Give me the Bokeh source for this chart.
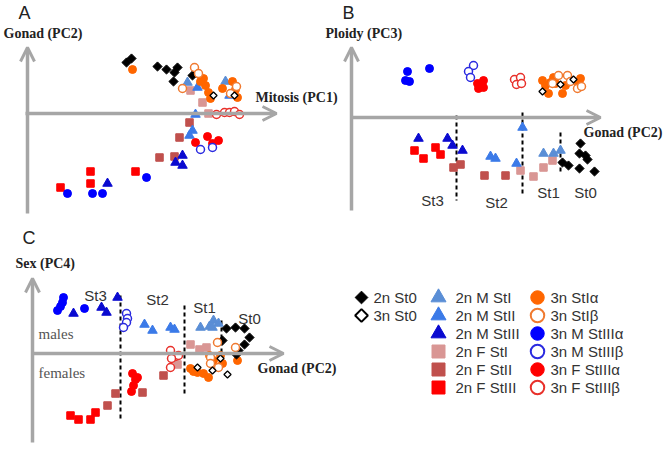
import math
from bokeh.plotting import figure
from bokeh.models import Range1d, Arrow, OpenHead, Label
from bokeh.embed import file_html
from bokeh.resources import INLINE
from bokeh.core.properties import value

# ---------------- Panel A : Mitosis (PC1) x Gonad (PC2) ----------------
A_2N_ST0 = [(9.9, 5.1), (10.4, 5.5), (13.0, 4.7), (13.9, 4.4), (15.0, 4.6), (14.7, 4.1), (14.6, 3.2), (16.5, 3.8)]
A_3N_ST0 = [(18.6, 1.8), (20.7, 1.8)]
A_2N_M_STI = [(16.0, 3.1), (19.8, 3.2)]
A_2N_M_STII = [(17.0, 2.6), (20.2, 1.8), (16.8, -0.1), (16.5, -1.7), (16.2, -2.2)]
A_2N_M_STIII = [(8.0, -7.0), (15.5, -4.2), (14.8, -4.9), (15.5, -5.2)]
A_2N_F_STI = [(16.3, 2.3), (17.5, 1.1), (18.1, 0.0)]
A_2N_F_STII = [(16.2, -0.9), (15.2, -2.4), (13.2, -4.4), (14.7, -4.3)]
A_2N_F_STIII = [(3.3, -7.4), (6.3, -5.8), (6.3, -7.0), (10.8, -5.8)]
A_3N_STIA = [(10.5, 4.4), (17.0, 4.0), (17.6, 3.5), (17.8, 2.8), (18.1, 2.1), (18.3, 1.5), (17.3, 3.2),
             (19.5, 2.5), (20.5, 3.2), (20.8, 2.4), (21.0, 1.6)]
A_3N_STIB = [(16.7, 4.6), (17.1, 4.0), (15.5, 2.5), (20.9, 2.7), (20.3, 2.0)]
A_3N_M_STIIIA = [(4.0, -8.0), (6.5, -8.0), (7.5, -8.0), (11.9, -6.4)]
A_3N_M_STIIIB = [(17.3, -3.6), (18.5, -3.4)]
A_3N_F_STIIIA = [(16.8, -2.9), (18.0, -2.3), (18.5, -3.0), (19.1, -2.7)]
A_3N_F_STIIIB = [(18.9, -0.1), (19.7, 0.1), (20.2, 0.1), (20.7, 0.2), (21.2, -0.1)]

# ---------------- Panel B : Gonad (PC2) x Ploidy (PC3) ----------------
B_2N_ST0 = [(21.1, -4.5), (21.7, -4.8), (22.9, -2.6), (22.8, -3.6), (23.4, -3.8), (23.6, -4.2), (22.8, -5.1), (24.3, -5.4)]
B_3N_ST0 = [(19.1, 2.6), (22.2, 3.8), (20.9, 3.3)]
B_2N_M_STI = [(19.2, -3.6), (20.2, -3.6), (20.9, -3.3)]
B_2N_M_STII = [(13.9, -3.9), (14.4, -4.1), (16.5, -4.6), (17.1, -1.0)]
B_2N_M_STIII = [(6.7, -2.1), (9.6, -2.1), (10.1, -2.8), (11.1, -3.3)]
B_2N_F_STI = [(16.9, -5.3), (18.2, -5.9), (19.2, -5.0), (20.1, -4.3)]
B_2N_F_STII = [(10.2, -5.0), (10.9, -4.7), (13.3, -5.8), (15.4, -5.8)]
B_2N_F_STIII = [(6.3, -3.3), (7.2, -4.1), (8.4, -3.0), (8.9, -3.7)]
B_3N_STIA = [(19.1, 3.7), (19.4, 3.2), (19.7, 2.4), (20.2, 4.0), (20.4, 3.4), (21.1, 2.4), (21.4, 3.2),
             (22.9, 3.9), (22.7, 3.3), (19.9, 3.5)]
B_3N_STIB = [(20.7, 4.2), (21.6, 4.2), (21.9, 3.6), (22.6, 2.9), (20.1, 3.4), (23.0, 3.1)]
B_3N_M_STIIIA = [(5.6, 4.6), (5.4, 3.7), (5.8, 3.6), (7.8, 4.9)]
B_3N_M_STIIIB = [(12.2, 5.2), (11.7, 4.6), (11.9, 4.0)]
B_3N_F_STIIIA = [(12.6, 3.4), (13.2, 3.7), (12.7, 2.9), (13.2, 3.0)]
B_3N_F_STIIIB = [(16.3, 3.8), (16.9, 4.0), (16.5, 3.3), (17.0, 3.4)]
B_STAGE_X = [10.5, 17.1, 20.9]
B_STAGE_TOP = [0.2, 0.5, -1.5]
B_STAGE_BOTTOM = [-8.3, -7.8, -5.6]

# ---------------- Panel C : Gonad (PC2) x Sex (PC4) ----------------
C_2N_ST0 = [(19.4, 2.5), (20.3, 2.6), (21.2, 2.5), (21.7, 1.6), (21.2, 0.9), (20.6, 0.3), (19.0, 1.3), (20.4, -0.1)]
C_3N_ST0 = [(18.8, -0.5), (18.0, -1.7), (19.5, -2.1), (16.5, -1.4)]
C_2N_M_STI = [(16.8, 2.6), (17.7, 2.7), (18.1, 3.3), (18.6, 3.0), (18.0, 2.6)]
C_2N_M_STII = [(11.2, 2.9), (12.0, 2.3), (13.8, 2.6), (14.2, 2.4)]
C_2N_M_STIII = [(4.1, 4.0), (6.9, 4.6), (7.4, 4.1), (8.5, 5.6)]
C_2N_F_STI = [(15.8, 0.9), (16.7, 0.4), (17.4, 0.6), (14.5, -1.1)]
C_2N_F_STII = [(13.1, -2.2), (11.0, -3.9), (8.3, -4.0), (7.5, -5.2)]
C_2N_F_STIII = [(3.8, -6.2), (4.6, -6.6), (5.8, -6.6), (6.3, -5.9)]
C_3N_STIA = [(15.8, -1.5), (16.5, -1.9), (17.1, -2.0), (17.6, -2.4), (17.7, -0.2), (18.8, -0.2),
             (19.0, -1.0), (20.5, -0.7), (16.1, -1.8), (18.1, -0.7)]
C_3N_STIB = [(18.5, 1.1), (20.3, 0.6), (17.8, -0.4), (17.8, -1.0), (18.6, -1.4)]
C_3N_M_STIIIA = [(3.1, 5.6), (3.0, 5.1), (2.8, 4.7), (2.5, 4.3), (5.2, 4.5)]
C_3N_M_STIIIB = [(9.4, 4.0), (9.5, 3.5), (9.4, 3.1), (9.1, 2.6)]
C_3N_F_STIIIA = [(10.0, -2.0), (10.3, -2.6), (10.1, -3.2), (9.9, -3.8), (10.5, -2.4)]
C_3N_F_STIIIB = [(13.8, 0.3), (14.3, -0.3), (14.6, -0.2), (13.9, -0.5), (13.8, -1.4)]
C_STAGE_X = [8.8, 15.2, 18.9]
C_STAGE_TOP = [5.8, 4.8, 3.3]
C_STAGE_BOTTOM = [-6.7, -4.0, -0.6]

STAGE_LABELS = ["St3", "St2", "St1", "St0"]

# ---------------- legend / groups ----------------
GROUPS = ["2n St0", "3n St0", "2n M StI", "2n M StII", "2n M StIII", "2n F StI", "2n F StII", "2n F StIII",
          "3n StI\u03b1", "3n StI\u03b2", "3n M StIII\u03b1", "3n M StIII\u03b2", "3n F StIII\u03b1", "3n F StIII\u03b2"]
MARKERS = ["diamond", "diamond", "triangle", "triangle", "triangle", "square", "square", "square",
           "circle", "circle", "circle", "circle", "circle", "circle"]
COLORS = ["#000000", "#000000", "#5a8ed6", "#3b7ae8", "#0a0ad0", "#d99694", "#c0504d", "#ff0000",
          "#ff6600", "#f07a30", "#0000ff", "#2a2ae0", "#ff0000", "#e8302a"]
HOLLOW = [False, True, False, False, False, False, False, False,
          False, True, False, True, False, True]
LEGEND_COL = [0, 0, 1, 1, 1, 1, 1, 1, 2, 2, 2, 2, 2, 2]
LEGEND_ROW = [0, 1, 0, 1, 2, 3, 4, 5, 0, 1, 2, 3, 4, 5]

PANEL_A = [A_2N_ST0, A_3N_ST0, A_2N_M_STI, A_2N_M_STII, A_2N_M_STIII, A_2N_F_STI, A_2N_F_STII, A_2N_F_STIII,
           A_3N_STIA, A_3N_STIB, A_3N_M_STIIIA, A_3N_M_STIIIB, A_3N_F_STIIIA, A_3N_F_STIIIB]
PANEL_B = [B_2N_ST0, B_3N_ST0, B_2N_M_STI, B_2N_M_STII, B_2N_M_STIII, B_2N_F_STI, B_2N_F_STII, B_2N_F_STIII,
           B_3N_STIA, B_3N_STIB, B_3N_M_STIIIA, B_3N_M_STIIIB, B_3N_F_STIIIA, B_3N_F_STIIIB]
PANEL_C = [C_2N_ST0, C_3N_ST0, C_2N_M_STI, C_2N_M_STII, C_2N_M_STIII, C_2N_F_STI, C_2N_F_STII, C_2N_F_STIII,
           C_3N_STIA, C_3N_STIB, C_3N_M_STIIIA, C_3N_M_STIIIB, C_3N_F_STIIIA, C_3N_F_STIIIB]

# ---------------- styling constants ----------------
GRAY = "#a6a6a6"
SANS = "Liberation Sans"
SERIF = "Liberation Serif"
W, H = 666, 446
SCALE = 10.0  # pixels per PC unit

# page-pixel frame (y downwards) used for titles / legend
p = figure(width=W, height=H, x_range=Range1d(0, W), y_range=Range1d(H, 0),
           output_backend="svg", toolbar_location=None, title=None, min_border=0,
           x_axis_type=None, y_axis_type=None)
p.outline_line_color = None
p.background_fill_color = "white"


def add_panel(name, ox, oy):
    """Register PC-score ranges whose origin sits at page pixel (ox, oy)."""
    p.extra_x_ranges[name + "x"] = Range1d((0 - ox) / SCALE, (W - ox) / SCALE)
    p.extra_y_ranges[name + "y"] = Range1d((oy - H) / SCALE, (oy - 0) / SCALE)
    return dict(x_range_name=name + "x", y_range_name=name + "y")


RA = add_panel("a", 27, 113)
RB = add_panel("b", 351, 117)
RC = add_panel("c", 32, 353)


def axes_arrows(rng, y_bottom, y_top, x_left, x_right):
    head = dict(size=14, line_color=GRAY, line_width=3)
    p.add_layout(Arrow(end=OpenHead(**head), x_start=0, y_start=y_bottom, x_end=0, y_end=y_top,
                       line_color=GRAY, line_width=3.5, **rng))
    p.add_layout(Arrow(end=OpenHead(**head), x_start=x_left, y_start=0, x_end=x_right, y_end=0,
                       line_color=GRAY, line_width=3.5, **rng))


axes_arrows(RA, -10.0, 6.6, -0.2, 24.9)
axes_arrows(RB, -9.3, 7.0, 0.0, 24.9)
axes_arrows(RC, -8.9, 7.5, 0.0, 25.1)

# stage separators
for xs, tops, bots, rng in [(B_STAGE_X, B_STAGE_TOP, B_STAGE_BOTTOM, RB),
                            (C_STAGE_X, C_STAGE_TOP, C_STAGE_BOTTOM, RC)]:
    p.segment(x0=xs, y0=tops, x1=xs, y1=bots, line_color="black", line_width=2,
              line_dash="4 3", **rng)

DRAW_ORDER = [7, 6, 5, 4, 3, 2, 8, 10, 12, 0, 9, 11, 13, 1]


def marker_style(i, big=False):
    m = MARKERS[i]
    if m == "diamond":
        kw = dict(marker="square", angle=math.pi / 4, size=9 if big else 6.5)
    elif m == "triangle":
        kw = dict(marker="triangle", size=15 if big else 9.5)
    elif m == "square":
        kw = dict(marker="square", size=13 if big else 7.5)
    else:
        kw = dict(marker="circle", size=13.5 if big else 8)
    if HOLLOW[i]:
        kw.update(fill_color="white", line_color=COLORS[i], line_width=2 if big else 1.5)
        if m == "diamond" and not big:
            kw.update(size=5, line_width=1.3)
    else:
        kw.update(fill_color=COLORS[i], line_color=COLORS[i], line_width=1)
    return kw


for panel, rng in [(PANEL_A, RA), (PANEL_B, RB), (PANEL_C, RC)]:
    for i in DRAW_ORDER:
        pts = panel[i]
        p.scatter(x=[q[0] for q in pts], y=[q[1] for q in pts], **marker_style(i), **rng)


def label(x, y, text, font=SANS, size="15px", style="normal", color="#333333", align="left"):
    p.add_layout(Label(x=x, y=y, text=text, text_font=font, text_font_size=size,
                       text_font_style=style, text_color=color, text_align=align,
                       text_baseline="middle"))


# panel letters
label(18, 12, "A", size="18px", color="#222222")
label(342, 12, "B", size="18px", color="#222222")
label(22, 237, "C", size="18px", color="#222222")

# axis titles (bold serif)
AX = dict(font=SERIF, size="14px", style="bold", color="#222222")
label(3, 33, "Gonad (PC2)", **AX)
label(255, 97, "Mitosis (PC1)", **AX)
label(325, 33, "Ploidy (PC3)", **AX)
label(583, 132, "Gonad (PC2)", **AX)
label(15, 263, "Sex (PC4)", **AX)
label(257, 368, "Gonad (PC2)", **AX)

# males / females
label(38, 333, "males", font=SERIF, size="15px", color="#555555")
label(38, 372, "females", font=SERIF, size="15px", color="#555555")

# stage labels
for (x, y), t in zip([(432, 200), (496, 202), (548, 192), (585, 192)], STAGE_LABELS):
    label(x, y, t, align="center")
for (x, y), t in zip([(95, 295), (157, 299), (204, 307), (249, 318)], STAGE_LABELS):
    label(x, y, t, align="center")

# legend (three columns)
LEG_MARK_X = [361, 438, 537]
LEG_TEXT_X = [373, 455, 550]
LEG_TOP, LEG_STEP = 297, 18
for i in range(len(GROUPS)):
    c, r = LEGEND_COL[i], LEGEND_ROW[i]
    p.scatter(x=[LEG_MARK_X[c]], y=[LEG_TOP + r * LEG_STEP], **marker_style(i, big=True))
p.text(x=[LEG_TEXT_X[c] for c in LEGEND_COL], y=[LEG_TOP + r * LEG_STEP for r in LEGEND_ROW],
       text=GROUPS, text_font=value(SANS), text_font_size="15px", text_color="#333333",
       text_baseline="middle", text_align="left")

open("out.html", "w").write(file_html(p, INLINE))
